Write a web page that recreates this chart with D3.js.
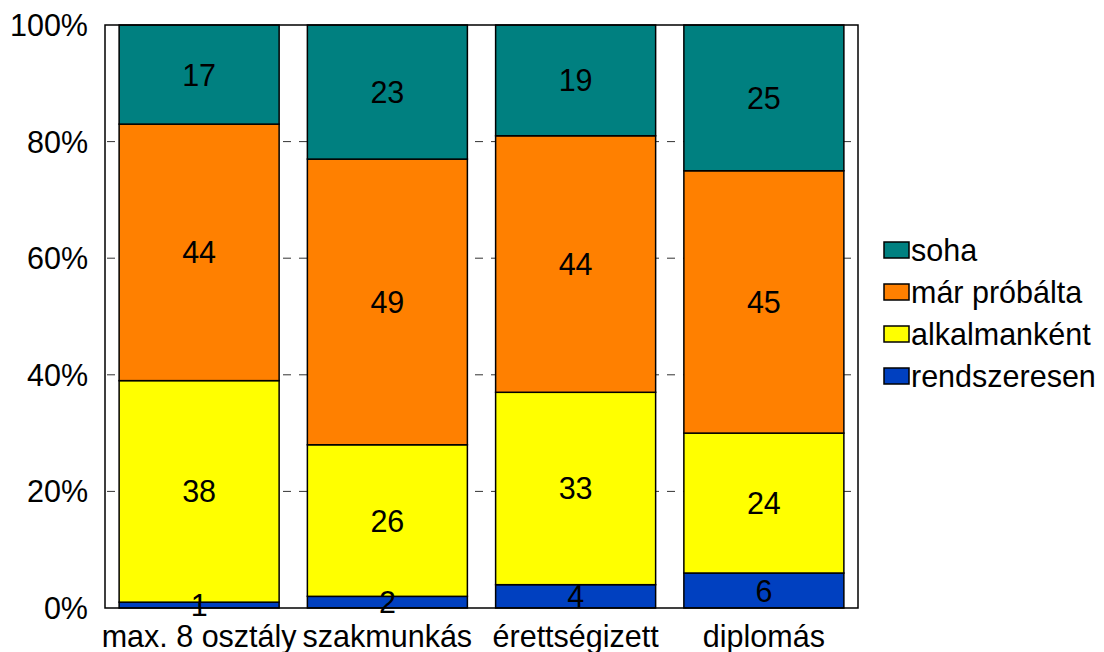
<!DOCTYPE html>
<html><head><meta charset="utf-8">
<script src="https://cdn.jsdelivr.net/npm/d3@7"></script>
<style>body{margin:0;background:#fff}svg{display:block}text{font-family:"Liberation Sans",Arial,sans-serif;fill:#000}</style>
</head><body><svg id="c" width="1104" height="652"></svg>
<script>
const categories = ["max. 8 osztály","szakmunkás","érettségizett","diplomás"];
const seriesNames = ["rendszeresen","alkalmanként","már próbálta","soha"];
const rendszeresen = [1,2,4,6];
const alkalmankent = [38,26,33,24];
const marProbalta = [44,49,44,45];
const soha = [17,23,19,25];
const yTicks = [0,20,40,60,80,100];
const colors = ["#0040C0","#FFFF00","#FF8000","#008080"];

const seriesValues = [rendszeresen, alkalmankent, marProbalta, soha];
const rows = categories.map((c,i)=>{const r={cat:c}; seriesNames.forEach((s,j)=>r[s]=seriesValues[j][i]); return r;});
const stack = d3.stack().keys(seriesNames)(rows);

const svg = d3.select("#c");
const L=105, R=858, T=25, B=608, FS=30.5;
const x = d3.scaleBand().domain(categories).range([L,R]).paddingInner(0.15).paddingOuter(0.075);
const y = d3.scaleLinear().domain([0,100]).range([B,T]);

// gridlines
svg.append("g").selectAll("line").data(yTicks.filter(t=>t>0&&t<100)).join("line")
  .attr("x1",L).attr("x2",R).attr("y1",d=>y(d)).attr("y2",d=>y(d))
  .attr("stroke","#333").attr("stroke-width",1).attr("stroke-dasharray","8,8").attr("stroke-dashoffset",-2);

// bars
const g = svg.append("g");
stack.forEach((s,j)=>{
  g.selectAll(null).data(s).join("rect")
    .attr("x",d=>x(d.data.cat)).attr("width",x.bandwidth())
    .attr("y",d=>y(d[1])).attr("height",d=>y(d[0])-y(d[1]))
    .attr("fill",colors[j]).attr("stroke","#000").attr("stroke-width",1.5);
});
stack.forEach((s,j)=>{
  g.selectAll(null).data(s).join("text")
    .attr("x",d=>x(d.data.cat)+x.bandwidth()/2)
    .attr("y",d=>(y(d[0])+y(d[1]))/2)
    .attr("text-anchor","middle").attr("dominant-baseline","central")
    .attr("font-size",FS).text(d=>d[1]-d[0]);
});

// frame
svg.append("rect").attr("x",L).attr("y",T).attr("width",R-L).attr("height",B-T)
  .attr("fill","none").attr("stroke","#000").attr("stroke-width",1.5);

// y axis labels
svg.append("g").selectAll("text").data(yTicks).join("text")
  .attr("x",88).attr("y",d=>y(d)).attr("text-anchor","end").attr("dominant-baseline","central")
  .attr("font-size",FS).text(d=>d+"%");

// x labels
svg.append("g").selectAll("text").data(categories).join("text")
  .attr("x",d=>x(d)+x.bandwidth()/2).attr("y",647).attr("text-anchor","middle")
  .attr("font-size",FS).text(d=>d);

// legend
const legendOrder = [3,2,1,0];
const lg = svg.append("g");
legendOrder.forEach((j,i)=>{
  const cy = 250 + i*42;
  lg.append("rect").attr("x",884).attr("y",cy-8).attr("width",25).attr("height",16)
    .attr("fill",colors[j]).attr("stroke","#000").attr("stroke-width",1.5);
  lg.append("text").attr("x",911).attr("y",cy).attr("dominant-baseline","central")
    .attr("font-size",FS).text(seriesNames[j]);
});
</script></body></html>
